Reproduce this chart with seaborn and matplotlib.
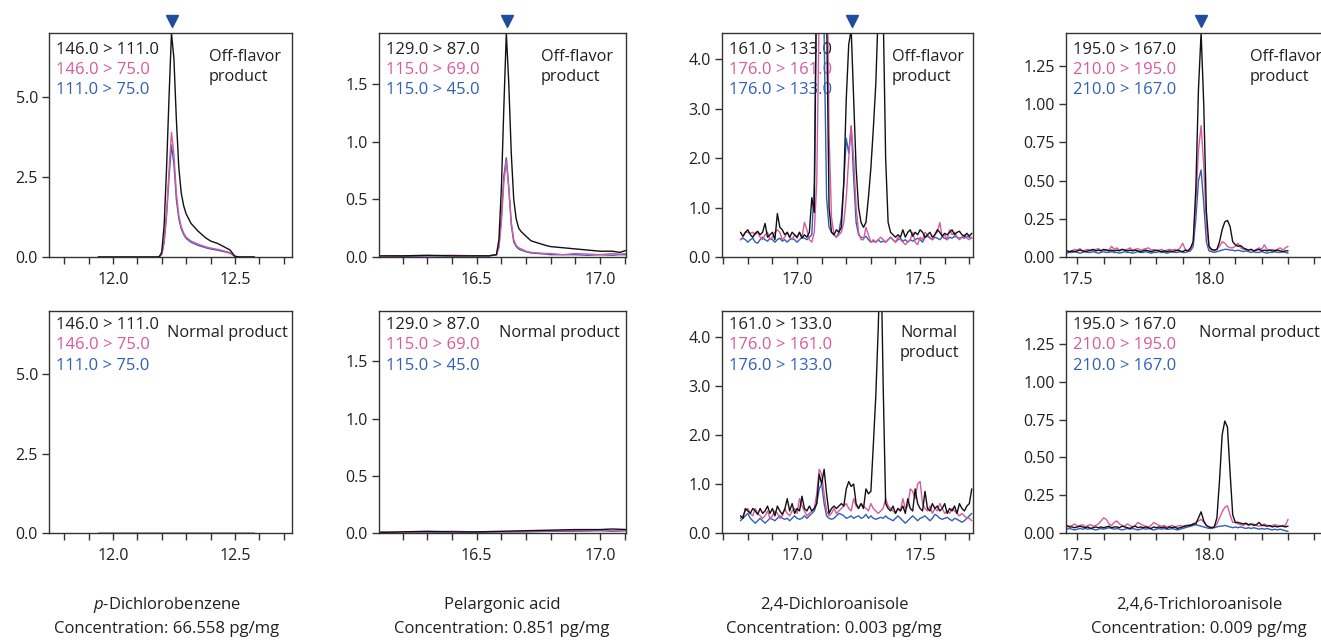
import numpy as np
import pandas as pd
import matplotlib
matplotlib.use('Agg')
import matplotlib.pyplot as plt
import seaborn as sns
from matplotlib.ticker import MultipleLocator, FormatStrFormatter

# ---------------- data ----------------
compounds = ['p-Dichlorobenzene', 'Pelargonic acid', '2,4-Dichloroanisole', '2,4,6-Trichloroanisole']
concentrations = ['66.558', '0.851', '0.003', '0.009']
transitions = [
    ['146.0 > 111.0', '146.0 > 75.0', '111.0 > 75.0'],
    ['129.0 > 87.0', '115.0 > 69.0', '115.0 > 45.0'],
    ['161.0 > 133.0', '176.0 > 161.0', '176.0 > 133.0'],
    ['195.0 > 167.0', '210.0 > 195.0', '210.0 > 167.0'],
]
peak_rt = [12.243, 16.623, 17.224, 17.97]

# p-Dichlorobenzene
dcb_rt = [11.94, 12.00, 12.10, 12.18, 12.19, 12.20, 12.21, 12.22, 12.23, 12.24, 12.25, 12.26, 12.27,
          12.28, 12.29, 12.30, 12.32, 12.35, 12.38, 12.40, 12.43, 12.46, 12.48, 12.50, 12.52, 12.58]
dcb_off_black = [0, 0, 0, 0, 0.01, 0.15, 1.0, 2.8, 5.0, 7.0, 6.2, 4.3, 2.8,
                 2.0, 1.6, 1.35, 1.05, 0.8, 0.6, 0.5, 0.42, 0.3, 0.22, 0.02, 0, 0]
dcb_off_pink = [0, 0, 0, 0, 0.01, 0.08, 0.5, 1.4, 2.7, 3.9, 3.2, 2.0, 1.3,
                0.95, 0.75, 0.62, 0.5, 0.4, 0.32, 0.28, 0.24, 0.18, 0.14, 0.02, 0, 0]
dcb_off_blue = [0, 0, 0, 0, 0.01, 0.08, 0.45, 1.3, 2.5, 3.5, 2.9, 1.8, 1.2,
                0.88, 0.7, 0.58, 0.46, 0.36, 0.29, 0.25, 0.21, 0.16, 0.12, 0.02, 0, 0]
dcb_norm_rt = [11.94, 12.2, 12.4, 12.58]
dcb_norm_black = [0, 0, 0, 0]
dcb_norm_pink = [0, 0, 0, 0]
dcb_norm_blue = [0, 0, 0, 0]

# Pelargonic acid
pel_rt = [16.11, 16.2, 16.3, 16.4, 16.5, 16.55, 16.58, 16.59, 16.60, 16.61, 16.62, 16.63, 16.64, 16.65,
          16.66, 16.67, 16.68, 16.70, 16.72, 16.75, 16.78, 16.80, 16.85, 16.90, 16.95, 17.0, 17.05, 17.08, 17.11]
pel_off_black = [0.01, 0.01, 0.015, 0.01, 0.01, 0.01, 0.02, 0.15, 0.6, 1.3, 1.94, 1.5, 0.9, 0.5,
                 0.33, 0.25, 0.22, 0.18, 0.14, 0.12, 0.1, 0.09, 0.08, 0.07, 0.06, 0.05, 0.05, 0.04, 0.06]
pel_off_pink = [0.005, 0.01, 0.01, 0.015, 0.01, 0.01, 0.02, 0.08, 0.3, 0.65, 0.83, 0.6, 0.3, 0.15,
                0.1, 0.08, 0.07, 0.05, 0.04, 0.035, 0.03, 0.03, 0.02, 0.03, 0.025, 0.02, 0.03, 0.025, 0.03]
pel_off_blue = [0.005, 0.005, 0.01, 0.01, 0.01, 0.01, 0.02, 0.1, 0.35, 0.7, 0.86, 0.6, 0.28, 0.13,
                0.09, 0.07, 0.06, 0.045, 0.035, 0.03, 0.025, 0.02, 0.02, 0.02, 0.015, 0.02, 0.015, 0.02, 0.02]
pel_norm_rt = [16.11, 16.2, 16.3, 16.4, 16.5, 16.6, 16.7, 16.8, 16.9, 17.0, 17.05, 17.11]
pel_norm_black = [0.005, 0.01, 0.015, 0.01, 0.01, 0.015, 0.02, 0.025, 0.03, 0.03, 0.035, 0.03]
pel_norm_pink = [0.01, 0.005, 0.01, 0.015, 0.01, 0.01, 0.015, 0.02, 0.02, 0.025, 0.02, 0.025]
pel_norm_blue = [0.0, 0.005, 0.005, 0.01, 0.005, 0.01, 0.01, 0.015, 0.015, 0.02, 0.015, 0.02]

# 2,4-Dichloroanisole, sampled every 0.01 min from 16.77
dca_start = 16.77
dca_off_black = [0.5, 0.42, 0.5, 0.55, 0.45, 0.4, 0.48, 0.52, 0.45, 0.5,
                 0.68, 0.4, 0.45, 0.5, 0.35, 0.88, 0.6, 0.55, 0.45, 0.5,
                 0.4, 0.5, 0.45, 0.4, 0.5, 0.38, 0.45, 0.4, 0.5, 1.2,
                 0.9, 6.0, 9.0, 9.0, 9.0, 5.0, 1.0, 0.5, 0.45, 0.55,
                 0.5, 0.6, 1.5, 3.2, 4.3, 4.6, 3.2, 1.8, 1.0, 0.7,
                 0.6, 0.7, 1.2, 1.8, 2.6, 3.5, 5.0, 8.0, 5.0, 2.0,
                 0.7, 0.5, 0.45, 0.4, 0.45, 0.4, 0.55, 0.4, 0.5, 0.55,
                 0.42, 0.5, 0.45, 0.55, 0.5, 0.4, 0.45, 0.5, 0.4, 0.45,
                 0.55, 0.5, 0.42, 0.48, 0.45, 0.5, 0.55, 0.45, 0.5, 0.52,
                 0.45, 0.42, 0.48, 0.42, 0.48]
dca_off_pink = [0.35, 0.4, 0.5, 0.5, 0.48, 0.5, 0.45, 0.5, 0.4, 0.35,
                0.45, 0.5, 0.35, 0.4, 0.5, 0.55, 0.5, 0.35, 0.4, 0.5,
                0.4, 0.35, 0.45, 0.38, 0.5, 0.4, 0.7, 0.55, 0.35, 0.3,
                0.5, 1.5, 5.0, 8.0, 8.0, 7.0, 2.5, 0.8, 0.45, 0.4,
                0.45, 0.5, 0.7, 1.2, 2.0, 2.65, 2.0, 1.0, 0.5, 0.35,
                0.35, 0.6, 0.45, 0.3, 0.35, 0.3, 0.35, 0.4, 0.35, 0.3,
                0.35, 0.4, 0.35, 0.3, 0.4, 0.35, 0.3, 0.25, 0.3, 0.35,
                0.5, 0.3, 0.25, 0.4, 0.35, 0.5, 0.45, 0.4, 0.35, 0.45,
                0.5, 0.7, 0.4, 0.45, 0.35, 0.55, 0.45, 0.5, 0.4, 0.35,
                0.4, 0.45, 0.38, 0.35, 0.4]
dca_off_blue = [0.35, 0.38, 0.35, 0.3, 0.35, 0.38, 0.3, 0.28, 0.35, 0.4,
                0.35, 0.32, 0.38, 0.35, 0.3, 0.35, 0.38, 0.32, 0.35, 0.3,
                0.35, 0.38, 0.35, 0.3, 0.35, 0.4, 0.38, 0.35, 0.4, 0.45,
                1.5, 6.0, 8.0, 8.0, 4.5, 1.2, 0.6, 0.5, 0.45, 0.4,
                0.5, 0.8, 1.5, 2.4, 2.1, 2.65, 1.6, 0.7, 0.45, 0.4,
                0.38, 0.42, 0.35, 0.3, 0.32, 0.3, 0.35, 0.3, 0.32, 0.3,
                0.35, 0.4, 0.35, 0.3, 0.35, 0.38, 0.32, 0.35, 0.3, 0.35,
                0.32, 0.35, 0.38, 0.35, 0.3, 0.4, 0.42, 0.38, 0.35, 0.4,
                0.38, 0.35, 0.4, 0.38, 0.35, 0.4, 0.38, 0.42, 0.4, 0.38,
                0.4, 0.38, 0.42, 0.4, 0.38]
dca_norm_black = [0.35, 0.3, 0.5, 0.45, 0.4, 0.5, 0.45, 0.38, 0.5, 0.4,
                  0.45, 0.55, 0.4, 0.5, 0.35, 0.55, 0.45, 0.38, 0.48, 0.7,
                  0.45, 0.6, 0.4, 0.5, 0.45, 0.75, 0.5, 0.45, 0.55, 0.45,
                  0.5, 0.6, 1.2, 1.0, 1.3, 0.8, 0.4, 0.5, 0.55, 0.5,
                  0.55, 0.6, 0.55, 0.9, 1.05, 0.95, 1.0, 0.6, 0.5, 0.6,
                  0.5, 0.9, 0.8, 0.85, 1.8, 2.8, 4.2, 6.0, 3.0, 0.6,
                  0.5, 0.45, 0.55, 0.4, 0.5, 0.45, 0.55, 0.4, 0.7, 0.5,
                  0.45, 0.9, 0.6, 0.5, 0.45, 0.85, 0.5, 0.45, 0.6, 0.5,
                  0.55, 0.45, 0.5, 0.6, 0.4, 0.5, 0.45, 0.55, 0.4, 0.6,
                  0.5, 0.45, 0.55, 0.6, 0.9]
dca_norm_pink = [0.3, 0.35, 0.45, 0.5, 0.4, 0.35, 0.5, 0.4, 0.35, 0.3,
                 0.35, 0.45, 0.3, 0.35, 0.45, 0.4, 0.3, 0.35, 0.5, 0.4,
                 0.35, 0.45, 0.5, 0.4, 0.7, 0.55, 0.45, 0.35, 0.4, 0.45,
                 0.5, 0.8, 1.3, 1.2, 0.8, 0.45, 0.35, 0.4, 0.5, 0.4,
                 0.45, 0.5, 0.55, 0.6, 0.5, 0.45, 0.7, 0.55, 0.5, 0.6,
                 0.55, 0.5, 0.45, 0.6, 0.5, 0.45, 0.4, 0.45, 0.5, 0.7,
                 0.55, 0.5, 0.45, 0.4, 0.5, 0.45, 0.7, 0.5, 0.55, 0.9,
                 0.85, 0.7, 1.0, 1.05, 0.6, 0.5, 0.45, 0.55, 0.4, 0.5,
                 0.45, 0.6, 0.5, 0.4, 0.45, 0.4, 0.5, 0.45, 0.4, 0.35,
                 0.4, 0.35, 0.3, 0.3, 0.25]
dca_norm_blue = [0.25, 0.3, 0.35, 0.4, 0.3, 0.25, 0.2, 0.25, 0.3, 0.25,
                 0.2, 0.25, 0.3, 0.28, 0.25, 0.3, 0.35, 0.3, 0.28, 0.3,
                 0.25, 0.3, 0.35, 0.3, 0.28, 0.3, 0.35, 0.3, 0.35, 0.4,
                 0.45, 0.6, 0.9, 1.0, 0.6, 0.35, 0.3, 0.28, 0.3, 0.35,
                 0.4, 0.38, 0.35, 0.3, 0.32, 0.35, 0.3, 0.33, 0.35, 0.3,
                 0.32, 0.38, 0.3, 0.35, 0.3, 0.28, 0.3, 0.32, 0.3, 0.35,
                 0.3, 0.28, 0.25, 0.3, 0.35, 0.3, 0.25, 0.2, 0.25, 0.3,
                 0.35, 0.3, 0.25, 0.3, 0.32, 0.35, 0.3, 0.25, 0.3, 0.38,
                 0.35, 0.3, 0.28, 0.3, 0.32, 0.28, 0.25, 0.3, 0.28, 0.25,
                 0.22, 0.25, 0.3, 0.35, 0.4]

# 2,4,6-Trichloroanisole, sampled every 0.01 min from 17.45
tca_start = 17.45
tca_off_black = [0.04, 0.04, 0.035, 0.04, 0.035, 0.04, 0.045, 0.04, 0.035, 0.04,
                 0.045, 0.05, 0.04, 0.045, 0.04, 0.05, 0.045, 0.04, 0.045, 0.04,
                 0.045, 0.04, 0.05, 0.045, 0.04, 0.045, 0.04, 0.045, 0.04, 0.035,
                 0.04, 0.045, 0.04, 0.035, 0.04, 0.045, 0.04, 0.035, 0.04, 0.035,
                 0.04, 0.035, 0.04, 0.045, 0.04, 0.035, 0.045, 0.04, 0.06, 0.1,
                 0.45, 1.1, 1.47, 1.0, 0.3, 0.07, 0.05, 0.045, 0.05, 0.1,
                 0.18, 0.23, 0.24, 0.2, 0.1, 0.08, 0.07, 0.075, 0.06, 0.05,
                 0.045, 0.05, 0.04, 0.045, 0.05, 0.04, 0.045, 0.04, 0.045, 0.04,
                 0.04, 0.045, 0.04, 0.035, 0.04, 0.04]
tca_off_pink = [0.03, 0.04, 0.035, 0.04, 0.05, 0.045, 0.055, 0.04, 0.045, 0.05,
                0.04, 0.045, 0.05, 0.055, 0.045, 0.04, 0.05, 0.045, 0.07, 0.05,
                0.06, 0.045, 0.05, 0.045, 0.05, 0.06, 0.045, 0.05, 0.055, 0.045,
                0.05, 0.055, 0.06, 0.045, 0.05, 0.04, 0.045, 0.05, 0.04, 0.045,
                0.05, 0.045, 0.05, 0.04, 0.06, 0.09, 0.05, 0.04, 0.05, 0.1,
                0.35, 0.7, 0.86, 0.6, 0.2, 0.06, 0.045, 0.04, 0.05, 0.07,
                0.1, 0.09, 0.07, 0.06, 0.06, 0.07, 0.09, 0.06, 0.05, 0.055,
                0.045, 0.05, 0.04, 0.05, 0.06, 0.05, 0.08, 0.05, 0.045, 0.05,
                0.045, 0.05, 0.06, 0.045, 0.06, 0.07]
tca_off_blue = [0.03, 0.025, 0.03, 0.03, 0.035, 0.03, 0.025, 0.03, 0.035, 0.03,
                0.03, 0.035, 0.03, 0.025, 0.03, 0.035, 0.03, 0.03, 0.035, 0.03,
                0.03, 0.025, 0.03, 0.035, 0.03, 0.03, 0.025, 0.03, 0.035, 0.03,
                0.03, 0.035, 0.03, 0.025, 0.03, 0.03, 0.035, 0.03, 0.03, 0.025,
                0.03, 0.035, 0.03, 0.03, 0.035, 0.03, 0.03, 0.035, 0.04, 0.07,
                0.25, 0.5, 0.57, 0.35, 0.1, 0.04, 0.035, 0.03, 0.035, 0.04,
                0.045, 0.05, 0.05, 0.045, 0.045, 0.04, 0.045, 0.04, 0.035, 0.04,
                0.035, 0.03, 0.035, 0.03, 0.03, 0.035, 0.03, 0.025, 0.03, 0.03,
                0.035, 0.03, 0.03, 0.035, 0.03, 0.025]
tca_norm_black = [0.07, 0.05, 0.04, 0.04, 0.035, 0.04, 0.045, 0.04, 0.035, 0.04,
                  0.03, 0.035, 0.04, 0.035, 0.04, 0.035, 0.04, 0.045, 0.035, 0.04,
                  0.04, 0.035, 0.045, 0.04, 0.035, 0.03, 0.04, 0.045, 0.035, 0.04,
                  0.035, 0.04, 0.035, 0.03, 0.04, 0.035, 0.04, 0.035, 0.04, 0.03,
                  0.04, 0.035, 0.04, 0.03, 0.035, 0.04, 0.045, 0.05, 0.05, 0.06,
                  0.06, 0.1, 0.14, 0.08, 0.05, 0.04, 0.035, 0.04, 0.1, 0.35,
                  0.65, 0.74, 0.7, 0.4, 0.12, 0.07, 0.07, 0.065, 0.06, 0.065,
                  0.055, 0.06, 0.05, 0.055, 0.07, 0.05, 0.05, 0.045, 0.05, 0.04,
                  0.045, 0.04, 0.045, 0.045, 0.04, 0.045]
tca_norm_pink = [0.06, 0.04, 0.045, 0.05, 0.06, 0.045, 0.05, 0.055, 0.04, 0.05,
                 0.055, 0.045, 0.05, 0.06, 0.08, 0.1, 0.09, 0.06, 0.05, 0.07,
                 0.08, 0.06, 0.05, 0.045, 0.06, 0.05, 0.04, 0.05, 0.07, 0.06,
                 0.05, 0.045, 0.04, 0.05, 0.07, 0.06, 0.05, 0.045, 0.05, 0.04,
                 0.045, 0.05, 0.04, 0.045, 0.05, 0.045, 0.05, 0.05, 0.055, 0.06,
                 0.07, 0.08, 0.09, 0.07, 0.05, 0.04, 0.035, 0.04, 0.06, 0.1,
                 0.14, 0.17, 0.18, 0.12, 0.07, 0.07, 0.06, 0.055, 0.05, 0.06,
                 0.05, 0.055, 0.06, 0.05, 0.045, 0.05, 0.06, 0.05, 0.045, 0.05,
                 0.055, 0.05, 0.045, 0.05, 0.05, 0.09]
tca_norm_blue = [0.03, 0.025, 0.03, 0.025, 0.02, 0.025, 0.03, 0.025, 0.03, 0.025,
                 0.03, 0.025, 0.02, 0.025, 0.03, 0.025, 0.03, 0.035, 0.03, 0.025,
                 0.03, 0.025, 0.02, 0.025, 0.03, 0.025, 0.03, 0.025, 0.02, 0.025,
                 0.03, 0.025, 0.03, 0.025, 0.02, 0.025, 0.03, 0.025, 0.03, 0.025,
                 0.025, 0.03, 0.025, 0.02, 0.025, 0.03, 0.035, 0.04, 0.045, 0.05,
                 0.055, 0.05, 0.045, 0.04, 0.035, 0.03, 0.03, 0.035, 0.04, 0.045,
                 0.045, 0.05, 0.045, 0.04, 0.035, 0.04, 0.035, 0.04, 0.035, 0.03,
                 0.035, 0.03, 0.035, 0.03, 0.025, 0.03, 0.025, 0.03, 0.025, 0.02,
                 0.025, 0.02, 0.025, 0.02, 0.015, 0.01]


def grid(start, values):
    return list(np.round(start + 0.01 * np.arange(len(values)), 2))


panels = [
    [(dcb_rt, dcb_off_black, dcb_off_pink, dcb_off_blue),
     (dcb_norm_rt, dcb_norm_black, dcb_norm_pink, dcb_norm_blue)],
    [(pel_rt, pel_off_black, pel_off_pink, pel_off_blue),
     (pel_norm_rt, pel_norm_black, pel_norm_pink, pel_norm_blue)],
    [(grid(dca_start, dca_off_black), dca_off_black, dca_off_pink, dca_off_blue),
     (grid(dca_start, dca_norm_black), dca_norm_black, dca_norm_pink, dca_norm_blue)],
    [(grid(tca_start, tca_off_black), tca_off_black, tca_off_pink, tca_off_blue),
     (grid(tca_start, tca_norm_black), tca_norm_black, tca_norm_pink, tca_norm_blue)],
]

# ---------------- styling / layout ----------------
BLACK, PINK, BLUE = '#111111', '#d65a9e', '#2f5fb6'
MARK = '#1f4e9e'
TXT = '#231f20'
W, H = 1321, 640
col_px = [(49, 292), (379, 626), (722, 973), (1066, 1332)]
row_px = [(33, 257), (311, 533)]
xlims = [(11.738, 12.734), (16.104, 17.105), (16.695, 17.715), (17.457, 18.467)]
ylims = [7.0, 1.94, 4.53, 1.467]
ymajor = [2.5, 0.5, 1.0, 0.25]
yfmt = ['%.1f', '%.1f', '%.1f', '%.2f']
label_dy = [(17, 37, 57), (14, 34, 55)]
# sample label: (x offset, [line y offsets], text lines) per column/row
sample_txt = [
    [(160, (24, 44), ['Off-flavor', 'product']), (118, (22,), ['Normal product'])],
    [(162, (24, 44), ['Off-flavor', 'product']), (120, (22,), ['Normal product'])],
    [(170, (24, 44), ['Off-flavor', 'product']), (178, (22, 42), ['Normal', 'product'])],
    [(184, (24, 44), ['Off-flavor', 'product']), (133, (22,), ['Normal product'])],
]
title_x = [167, 502, 834, 1199]

sns.set_style('ticks')
plt.rcParams['font.family'] = ['Open Sans', 'DejaVu Sans']
plt.rcParams['mathtext.fontset'] = 'custom'
plt.rcParams['mathtext.rm'] = 'Open Sans'
plt.rcParams['mathtext.it'] = 'Open Sans:italic'

fig = plt.figure(figsize=(W / 100, H / 100), dpi=100)

for c in range(4):
    l, r = col_px[c]
    for rr in range(2):
        t, b = row_px[rr]
        ax = fig.add_axes([l / W, 1 - b / H, (r - l) / W, (b - t) / H])
        rt, yk, yp, yb = panels[c][rr]
        names = transitions[c]
        df = pd.concat([
            pd.DataFrame({'rt': rt, 'signal': ys, 'transition': nm})
            for nm, ys in zip(names, (yk, yp, yb))
        ], ignore_index=True)
        sns.lineplot(data=df, x='rt', y='signal', hue='transition',
                     hue_order=names[::-1],
                     palette={names[0]: BLACK, names[1]: PINK, names[2]: BLUE},
                     estimator=None, sort=False, linewidth=1.0, legend=False, ax=ax)
        ax.set_xlim(*xlims[c])
        ax.set_ylim(0, ylims[c])
        ax.set_xlabel('')
        ax.set_ylabel('')
        ax.xaxis.set_major_locator(MultipleLocator(0.5))
        ax.xaxis.set_minor_locator(MultipleLocator(0.1))
        ax.xaxis.set_major_formatter(FormatStrFormatter('%.1f'))
        ax.yaxis.set_major_locator(MultipleLocator(ymajor[c]))
        ax.yaxis.set_major_formatter(FormatStrFormatter(yfmt[c]))
        ax.tick_params(which='both', direction='out', length=5, width=1,
                       color='#333333', labelsize=11.5, labelcolor=TXT, pad=3)
        ax.tick_params(which='major', axis='x', pad=6)
        for s in ax.spines.values():
            s.set_visible(True)
            s.set_color('#333333')
            s.set_linewidth(1.0)
        ax.set_facecolor('white')

        ah = b - t
        aw = r - l
        for nm, col, dy in zip(names, (TXT, PINK, BLUE), label_dy[rr]):
            ax.text(7 / aw, 1 - dy / ah, nm, transform=ax.transAxes, color=col,
                    fontsize=12, va='center', ha='left', zorder=1)
        dx, dys, lines = sample_txt[c][rr]
        for dy, ln in zip(dys, lines):
            ax.text(dx / aw, 1 - dy / ah, ln, transform=ax.transAxes, color=TXT,
                    fontsize=11.7, va='center', ha='left', zorder=1)

        if rr == 0:
            ax.plot([peak_rt[c]], [1 + 12 / ah], marker='v', ms=9, color=MARK,
                    transform=ax.get_xaxis_transform(), clip_on=False, linestyle='none')

for c in range(4):
    name = compounds[c]
    if name.startswith('p-'):
        name = r'$p$' + name[1:]
    fig.text(title_x[c] / W, 1 - 605 / H, name, ha='center', va='center',
             fontsize=12, color=TXT)
    fig.text(title_x[c] / W, 1 - 629 / H, f'Concentration: {concentrations[c]} pg/mg',
             ha='center', va='center', fontsize=12, color=TXT)

fig.savefig('out.png', dpi=100)
